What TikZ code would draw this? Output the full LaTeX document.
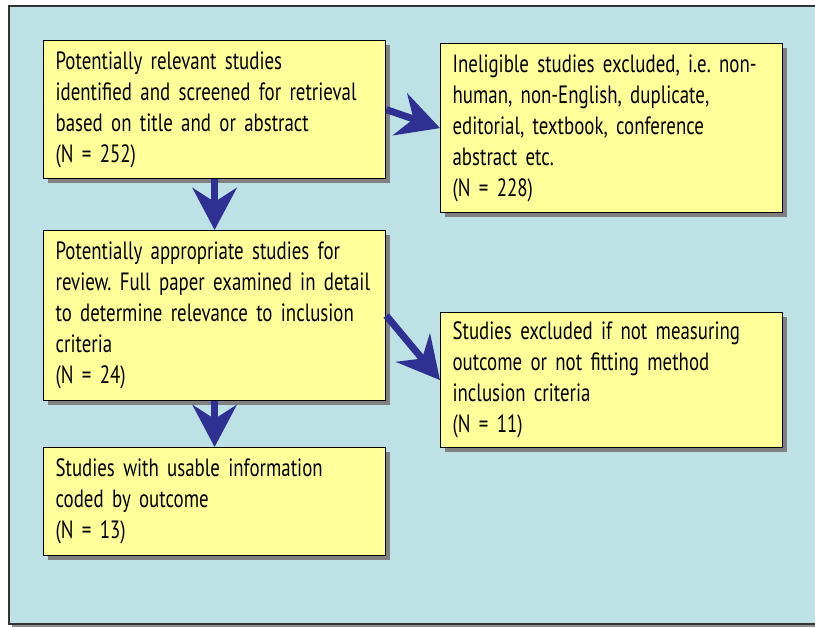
\documentclass[tikz,border=0pt]{standalone}
\usepackage{fontspec}
\setmainfont{PT Sans}[FakeStretch=0.755]
\usetikzlibrary{arrows.meta,shadows,positioning}
\definecolor{panelblue}{HTML}{BDE1E4}
\definecolor{boxyellow}{HTML}{FFFF99}
\definecolor{arrowblue}{HTML}{2E3192}
\frenchspacing

\begin{document}
\begin{tikzpicture}
  [
    x=1pt, y=1pt,
    >={Stealth[length=42pt,width=44pt,inset=14pt]},
    stage/.style = {draw=black, line width=1.2pt, fill=boxyellow, anchor=north west,
                    align=left, text width=318pt, inner xsep=12pt, inner ysep=4pt,
                    font=\fontsize{25}{31}\selectfont,
                    drop shadow={shadow xshift=4pt, shadow yshift=-4pt, fill=black!50, opacity=1}},
    flow/.style  = {->, line width=7pt, draw=arrowblue},
  ]

 \useasboundingbox (0,0) rectangle (815,-628);
 \fill[white] (0,0) rectangle (815,-628);
 \clip (0,0) rectangle (815,-628);
 \draw[fill=panelblue, line width=1.4pt, draw=black!80,
       drop shadow={shadow xshift=3pt, shadow yshift=-3pt, fill=black!45, opacity=1}]
   (9,-6) rectangle (840,-624);

 \node[stage, minimum height=138pt] (found)  at (43,-40)
   {Potentially relevant studies\\identified and screened for retrieval\\based on title and or abstract\\(N = 252)};
 \node[stage, minimum height=169pt] (inelig) at (440,-43)
   {Ineligible studies excluded, i.e. non-\\human, non-English, duplicate,\\editorial, textbook, conference\\abstract etc.\\(N = 228)};
 \node[stage, minimum height=170pt] (full)   at (43,-230)
   {Potentially appropriate studies for\\review. Full paper examined in detail\\to determine relevance to inclusion\\criteria\\(N = 24)};
 \node[stage, minimum height=135pt] (notfit) at (440,-312)
   {Studies excluded if not measuring\\outcome or not fitting method\\inclusion criteria\\(N = 11)};
 \node[stage, minimum height=108pt] (usable) at (43,-447)
   {Studies with usable information\\coded by outcome\\(N = 13)};

 \draw[flow] (found.east) -- (inelig.west);
 \draw[flow] (found.south) -- (full.north);
 \draw[flow] (full.east) -- (notfit.west);
 \draw[flow] (full.south) -- (usable.north);

\end{tikzpicture}
\end{document}
